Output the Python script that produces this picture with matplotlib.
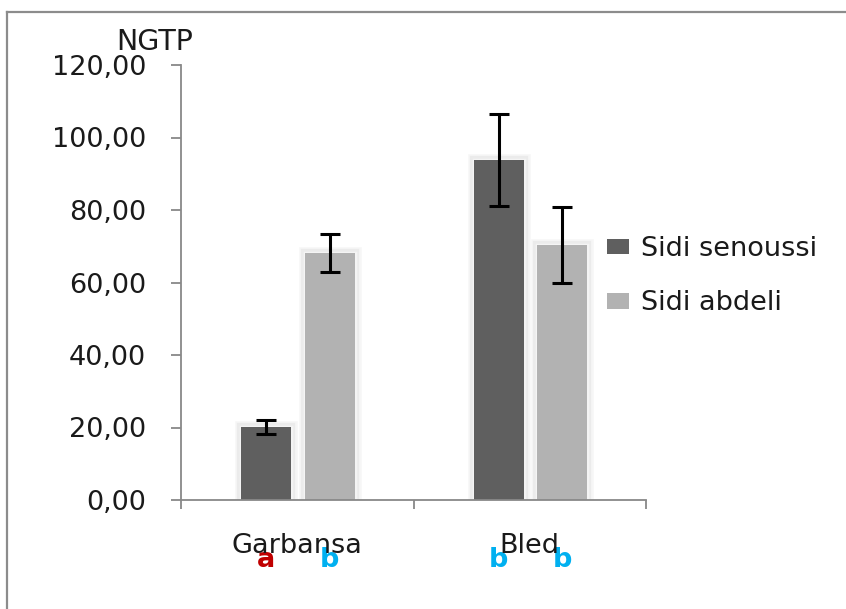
import matplotlib
matplotlib.use("Agg")
import matplotlib.pyplot as plt
import matplotlib.patheffects as pe
from matplotlib.lines import Line2D
from matplotlib.patches import Patch
from matplotlib.transforms import blended_transform_factory
from matplotlib.ticker import FuncFormatter

categories = ["Garbansa", "Bled"]
series_names = ["Sidi senoussi", "Sidi abdeli"]
senoussi = [20.2, 93.8]
senoussi_err = [2.0, 12.6]
abdeli = [68.1, 70.3]
abdeli_err = [5.2, 10.5]
senoussi_letters = ["a", "b"]
abdeli_letters = ["b", "b"]
y_ticks = [0, 20, 40, 60, 80, 100, 120]
y_label = "NGTP"

W, H = 846, 609
fig = plt.figure(figsize=(W / 100, H / 100), dpi=100)
plt.rcParams['font.family'] = ['DejaVu Sans']
FS = 19.5

ax = fig.add_axes([181 / W, 1 - 500 / H, (646 - 181) / W, (500 - 65) / H])
ax.set_xlim(-0.5, 1.5)
ax.set_ylim(0, 120)
tr = blended_transform_factory(ax.transData, fig.transFigure)

dark = "#5f5f5f"
light = "#b2b2b2"
offsets = [-0.133, 0.14]
width = 0.215
glow = [pe.Stroke(linewidth=9, foreground="#f6f6f6"),
        pe.Stroke(linewidth=6, foreground="#ebebeb"),
        pe.Stroke(linewidth=2.5, foreground="#f4f4f4"),
        pe.Normal()]

x = list(range(len(categories)))
letter_col = {"a": "#c00000", "b": "#00b0f0"}
handles = []
for vals, errs, col, off, name, letters in [
        (senoussi, senoussi_err, dark, offsets[0], series_names[0], senoussi_letters),
        (abdeli, abdeli_err, light, offsets[1], series_names[1], abdeli_letters)]:
    pos = [xi + off for xi in x]
    bars = ax.bar(pos, vals, width=width, color=col, edgecolor="none", zorder=2)
    for b in bars:
        b.set_path_effects(glow)
    handles.append(Patch(facecolor=col, edgecolor="none", label=name))
    ax.errorbar(pos, vals, yerr=errs, fmt="none", ecolor="black",
                elinewidth=2.2, capsize=7, capthick=2.2, zorder=4)
    for p, l in zip(pos, letters):
        ax.text(p, 1 - 567 / H, l, color=letter_col[l], fontsize=FS,
                fontweight="bold", ha="center", va="baseline", transform=tr,
                clip_on=False)

ax.set_yticks(y_ticks)
ax.yaxis.set_major_formatter(FuncFormatter(lambda v, p: f"{v:.2f}".replace(".", ",")))
ax.set_xticks([-0.5, 0.5, 1.5])
ax.set_xticklabels([])
for xi, c in zip(x, categories):
    ax.text(xi, 1 - 553 / H, c, fontsize=FS, color="#1a1a1a",
            ha="center", va="baseline", transform=tr, clip_on=False)

spine_col = "#888888"
for s in ["top", "right"]:
    ax.spines[s].set_visible(False)
for s in ["left", "bottom"]:
    ax.spines[s].set_color(spine_col)
    ax.spines[s].set_linewidth(1.3)
    ax.spines[s].set_zorder(5)
ax.tick_params(axis="y", direction="out", length=7, width=1.3, color=spine_col,
               labelsize=FS, pad=18, labelcolor="#1a1a1a")
ax.tick_params(axis="x", direction="out", length=6.5, width=1.3, color=spine_col)

fig.text(155 / W, 1 - 42 / H, y_label, fontsize=FS + 1, color="#1a1a1a",
         ha="center", va="center")

leg = ax.legend(handles=handles, loc="upper left", bbox_to_anchor=(607 / W, 1 - 236 / H),
                bbox_transform=fig.transFigure, frameon=False, fontsize=FS,
                borderpad=0, borderaxespad=0, handlelength=0.8, handleheight=0.5,
                handletextpad=0.45, labelspacing=1.05)
for t in leg.get_texts():
    t.set_color("#1a1a1a")

# outer chart frame
fc = "#8c8c8c"
fig.add_artist(Line2D([7 / W, 1.0], [1 - 12 / H, 1 - 12 / H], color=fc, lw=1.6,
                      transform=fig.transFigure))
fig.add_artist(Line2D([7 / W, 7 / W], [1 - 12 / H, 0], color=fc, lw=1.6,
                      transform=fig.transFigure))

fig.savefig("out.png", dpi=100)
